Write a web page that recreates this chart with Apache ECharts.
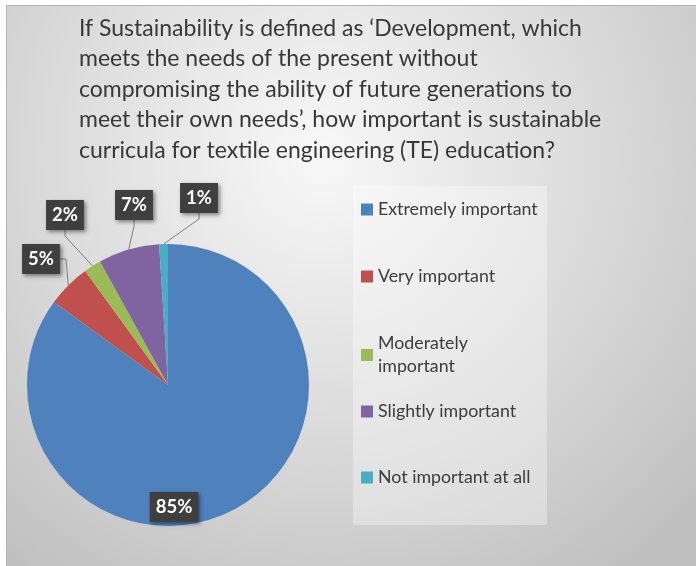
<!DOCTYPE html>
<html>
<head>
<meta charset="utf-8">
<script src="https://cdn.jsdelivr.net/npm/echarts@6/dist/echarts.min.js"></script>
<style>
html,body{margin:0;padding:0;background:#ffffff;}
#chart{position:absolute;left:0;top:0;width:696px;height:566px;}
</style>
</head>
<body>
<div id="chart"></div>
<script>
// ---- data ----
const titleLines = [
  "If Sustainability is defined as \u2018Development, which",
  "meets the needs of the present without",
  "compromising the ability of future generations to",
  "meet their own needs\u2019, how important is sustainable",
  "curricula for textile engineering (TE) education?"
];
const categories = ["Extremely important", "Very important", "Moderately important", "Slightly important", "Not important at all"];
const values = [85, 5, 2, 7, 1];
const colors = ["#4f81bd", "#c0504d", "#9bbb59", "#8064a2", "#4bacc6"];
// label centres (window px) for the callout boxes
const labelCentres = [[174, 507], [41, 259], [65, 215], [134, 205], [199, 198]];

const chart = echarts.init(document.getElementById('chart'), null, {renderer: 'canvas'});
const FONT = 'Lato, "Open Sans", sans-serif';
const legendText = {fontFamily: FONT, fontSize: 17.8, color: '#3c3c3c', lineHeight: 23};

const option = {
  animation: false,
  backgroundColor: '#ffffff',
  color: colors,
  graphic: [{
    type: 'rect', z: -100, silent: true,
    shape: {x: 6.5, y: 5.5, width: 700, height: 600},
    style: {
      fill: new echarts.graphic.RadialGradient(0.45, 0.25, 0.85, [
        {offset: 0, color: '#f8f8f8'},
        {offset: 0.55, color: '#dadada'},
        {offset: 1, color: '#c0c0c0'}
      ]),
      stroke: '#b4b4b4', lineWidth: 1
    }
  }, {
    type: 'rect', z: -50, silent: true,
    shape: {x: 353, y: 186, width: 194, height: 339},
    style: {fill: 'rgba(255,255,255,0.33)'}
  }],
  title: {
    text: titleLines.join('\n'),
    left: 74, top: 8,
    textStyle: {fontFamily: FONT, fontSize: 23, fontWeight: 'normal', color: '#383838', lineHeight: 30.5}
  },
  legend: [{
    orient: 'vertical',
    left: 361, top: 198, padding: 0,
    itemWidth: 12, itemHeight: 12, itemGap: 44,
    icon: 'rect',
    data: categories.slice(0, 3),
    formatter: function (name) { return name === 'Moderately important' ? 'Moderately\nimportant' : name; },
    textStyle: legendText
  }, {
    orient: 'vertical',
    left: 361, top: 400, padding: 0,
    itemWidth: 12, itemHeight: 12, itemGap: 43,
    icon: 'rect',
    data: categories.slice(3),
    textStyle: legendText
  }],
  series: [{
    type: 'pie',
    center: [168, 385],
    radius: 141,
    startAngle: 90,
    clockwise: true,
    avoidLabelOverlap: false,
    itemStyle: {borderWidth: 0},
    label: {
      show: true,
      position: 'outside',
      formatter: '{d}%',
      fontFamily: FONT, fontSize: 18.5, fontWeight: 'bold', color: '#ffffff',
      backgroundColor: '#3f3f3f',
      padding: [6, 6, 5, 6],
      shadowBlur: 4, shadowColor: 'rgba(0,0,0,0.45)', shadowOffsetX: 2, shadowOffsetY: 2
    },
    labelLine: {show: true, length: 10, length2: 6, lineStyle: {color: '#7f7f7f', width: 1}},
    labelLayout: function (params) {
      const c = labelCentres[params.dataIndex];
      return {x: c[0], y: c[1], align: 'center', verticalAlign: 'middle'};
    },
    data: categories.map(function (name, i) {
      const item = {name: name, value: values[i]};
      if (i === 0) {
        item.label = {position: 'inside'};
        item.labelLine = {show: false};
      }
      return item;
    })
  }]
};
chart.setOption(option);
</script>
</body>
</html>
